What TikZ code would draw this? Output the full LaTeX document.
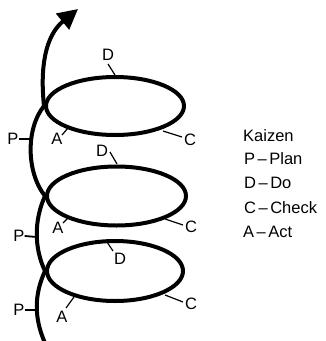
\documentclass[tikz,border=0pt]{standalone}
\usepackage{fontspec}
\setmainfont{Liberation Sans}
\usetikzlibrary{arrows.meta,shapes.geometric}
\tikzset{
  helix/.style={line width=4pt},
  loop/.style={ellipse, draw, line width=4pt, inner sep=0pt},
  lab/.style={font=\fontsize{16.5}{24}\selectfont, inner sep=0pt},
  tick/.style={line width=1.2pt},
  ptick/.style={line width=1.8pt},
}
\newcommand{\dsh}{\hspace{2.5pt}--\hspace{2.5pt}}
\begin{document}
\begin{tikzpicture}[x=1pt,y=-1pt]
\useasboundingbox (0,0) rectangle (326,341);
% loops
\node[loop, minimum width=138pt, minimum height=58pt] (e1) at (115,106) {};
\node[loop, minimum width=139pt, minimum height=59pt] (e2) at (116.5,196) {};
\node[loop, minimum width=136pt, minimum height=60pt] (e3) at (115,271) {};
% spiral line
\coordinate (s0) at (45,343);
\coordinate (tip) at (78,9);
\draw[helix] (s0) .. controls (34,318) and (34,295) .. (e3.west);
\draw[helix] (e3.west) .. controls (34,248) and (34,220) .. (e2.west);
\draw[helix] (e2.west) .. controls (26,172) and (26,128) .. (e1.west);
\draw[helix, -{Triangle[length=20pt,width=20pt]}] (e1.west) .. controls (40,68) and (45,36) .. (tip);
% P labels
\node[lab] (p1) at (13,139) {P};
\node[lab] (p2) at (19,236) {P};
\node[lab] (p3) at (19,310) {P};
\coordinate (p1e) at (32,139);
\coordinate (p2e) at (37,237);
\coordinate (p3e) at (37,310);
\draw[ptick] (p1.east) -- (p1e);
\draw[ptick] (p2.east) -- (p2e);
\draw[ptick] (p3.east) -- (p3e);
% D labels
\node[lab] (d1) at (108,55) {D};
\node[lab] (d2) at (102,151) {D};
\node[lab] (d3) at (120,259) {D};
\coordinate (d1a) at (108,64); \coordinate (d1b) at (115,75);
\coordinate (d2a) at (110,152); \coordinate (d2b) at (117,164);
\coordinate (d3a) at (107,242); \coordinate (d3b) at (113,251);
\draw[tick] (d1a) -- (d1b);
\draw[tick] (d2a) -- (d2b);
\draw[tick] (d3a) -- (d3b);
% C labels
\node[lab] (c1) at (190,140) {C};
\node[lab] (c2) at (191,227) {C};
\node[lab] (c3) at (191,304) {C};
\coordinate (c1a) at (163,131); \coordinate (c1b) at (182,137);
\coordinate (c2a) at (165,219); \coordinate (c2b) at (183,225);
\coordinate (c3a) at (165,295); \coordinate (c3b) at (183,302);
\draw[tick] (c1a) -- (c1b);
\draw[tick] (c2a) -- (c2b);
\draw[tick] (c3a) -- (c3b);
% A labels
\node[lab] (a1) at (57,139) {A};
\node[lab] (a2) at (58,228) {A};
\node[lab] (a3) at (62,317) {A};
\coordinate (a1a) at (62,135); \coordinate (a1b) at (68,128);
\coordinate (a2a) at (63,223); \coordinate (a2b) at (69,217);
\coordinate (a3a) at (66,308); \coordinate (a3b) at (74,297);
\draw[tick] (a1a) -- (a1b);
\draw[tick] (a2a) -- (a2b);
\draw[tick] (a3a) -- (a3b);
% legend
\node[lab, anchor=base west] (kz) at (243,141) {Kaizen};
\node[lab, anchor=base west] (lp) at (244,164) {P\dsh Plan};
\node[lab, anchor=base west] (ld) at (244,188) {D\dsh Do};
\node[lab, anchor=base west] (lc) at (244,213) {C\dsh Check};
\node[lab, anchor=base west] (la) at (243,237) {A\dsh Act};
\end{tikzpicture}
\end{document}
